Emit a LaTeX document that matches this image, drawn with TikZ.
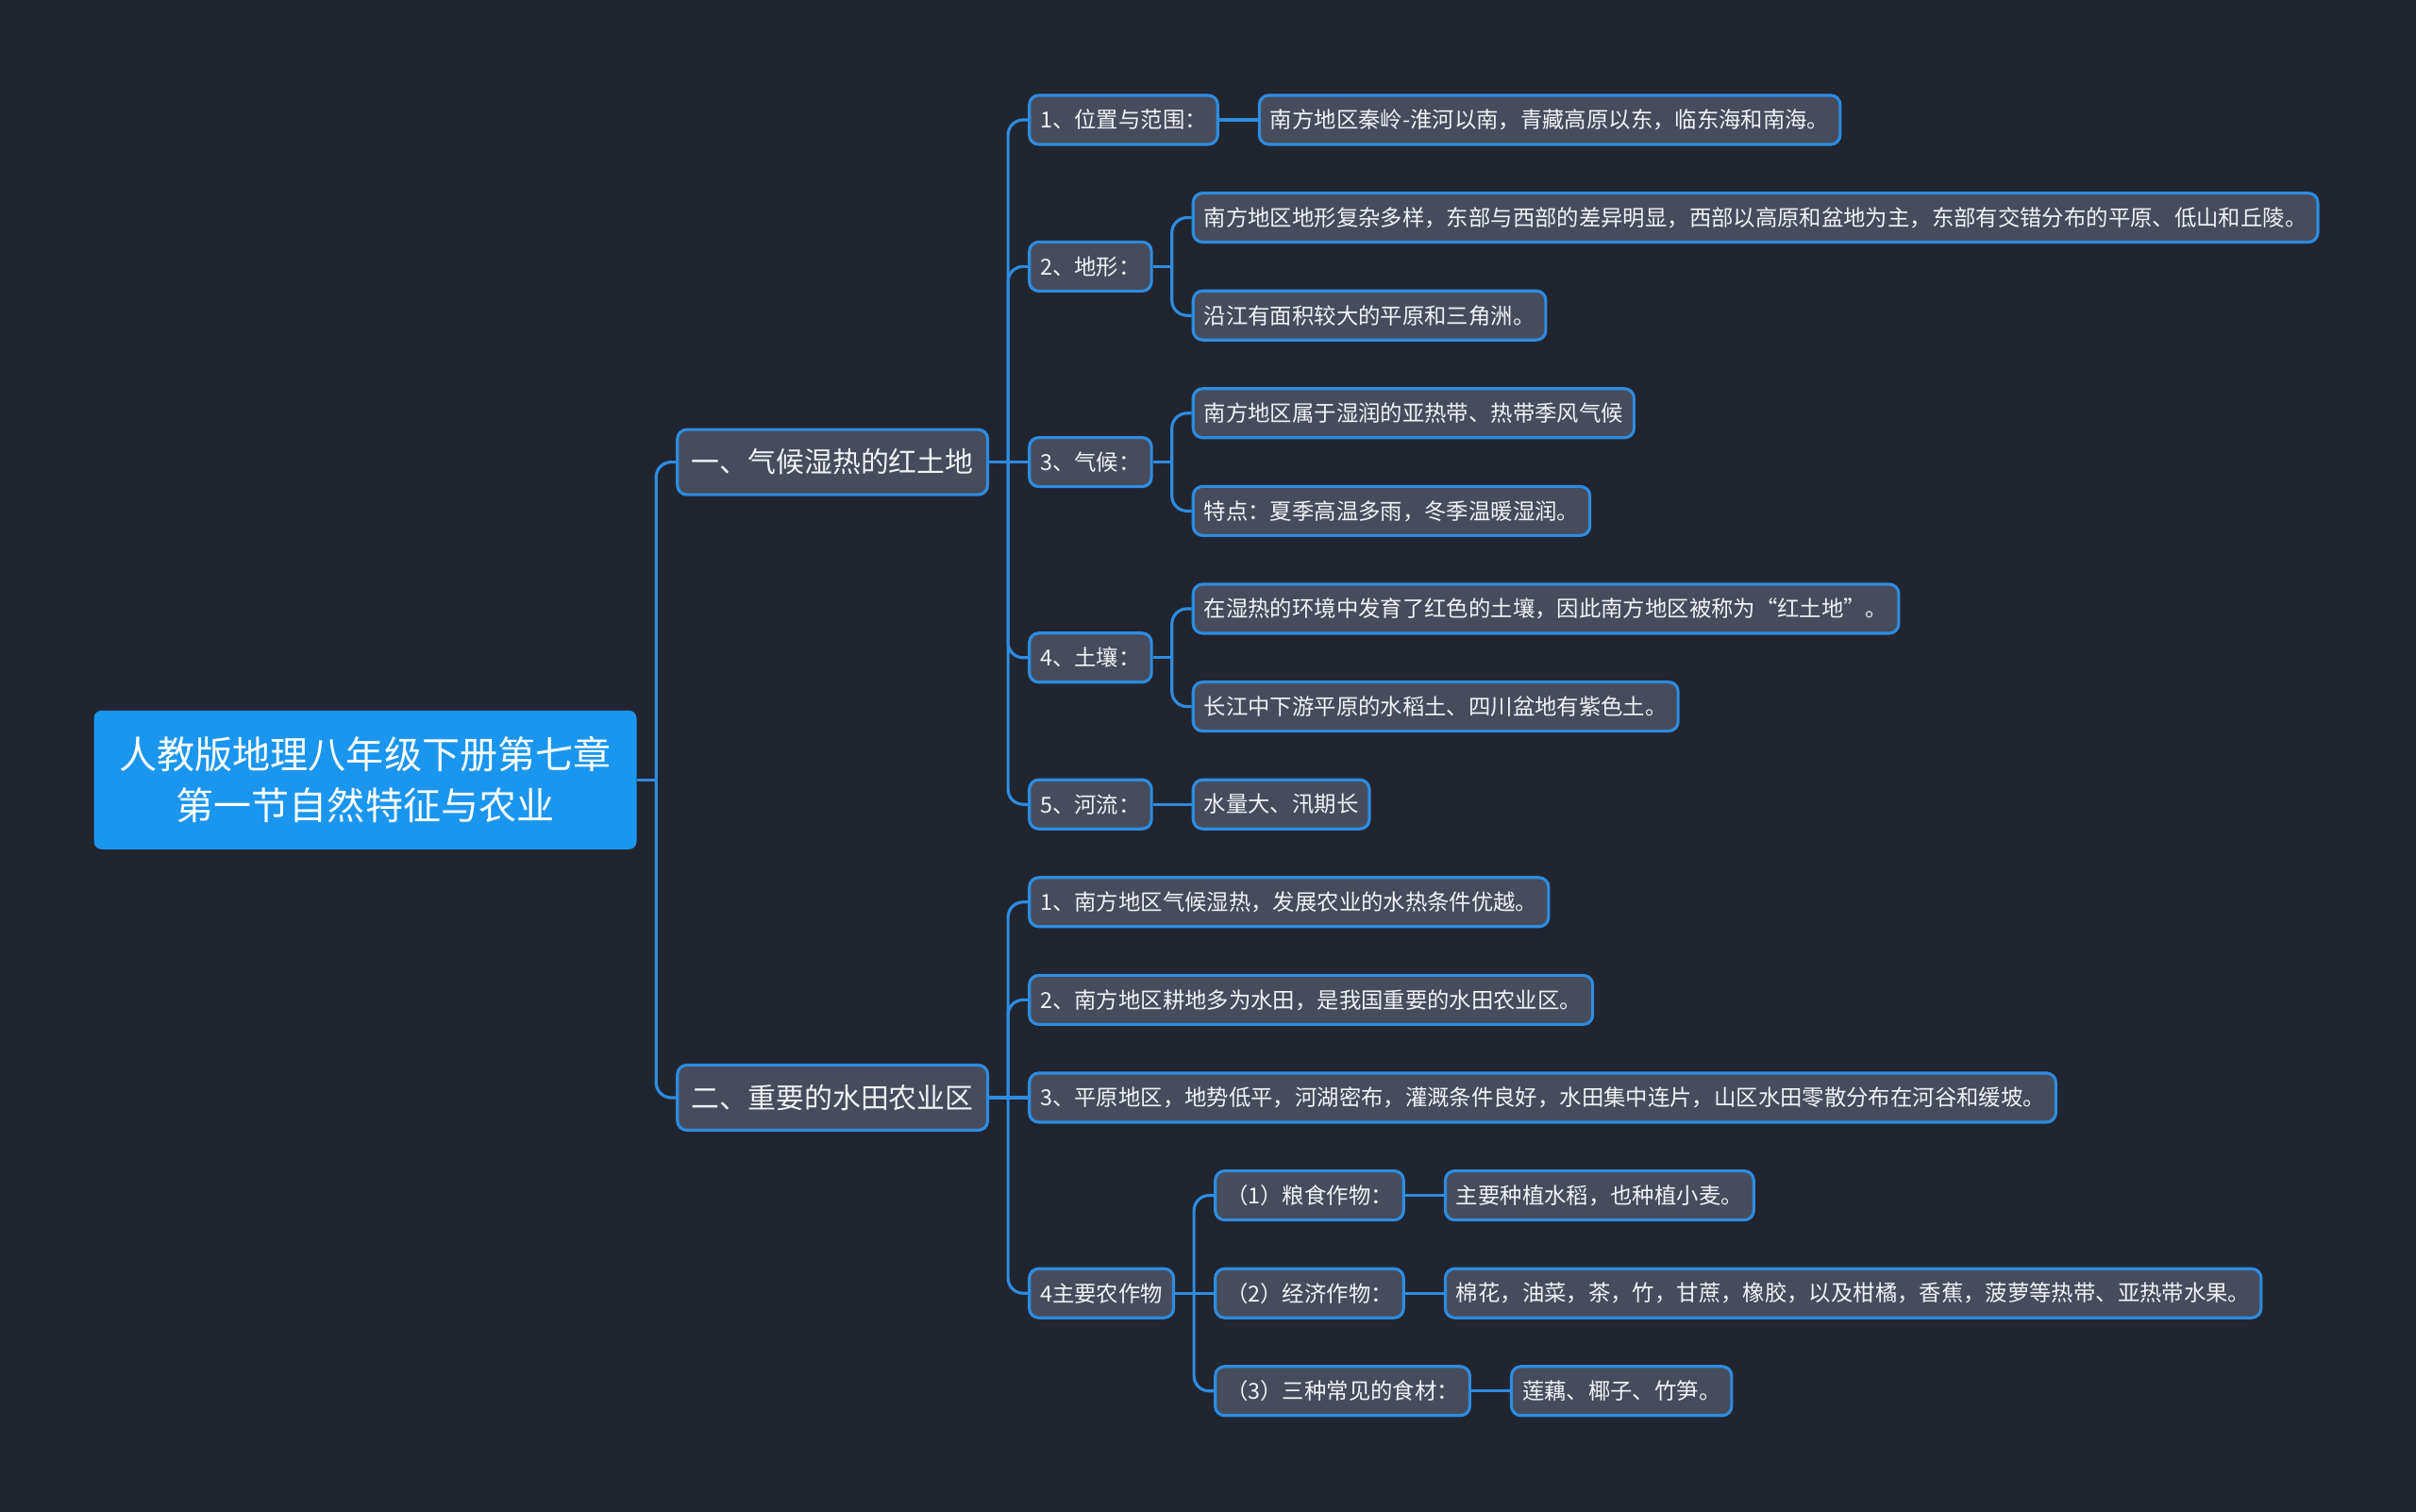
\documentclass[tikz,border=0pt]{standalone}
\usepackage{fontspec}
\setmainfont{Noto Sans CJK SC}
\usetikzlibrary{positioning}

\definecolor{bgdark}{RGB}{33,37,48}
\definecolor{rootblue}{RGB}{27,150,238}
\definecolor{linkblue}{RGB}{45,140,224}
\definecolor{boxgray}{RGB}{70,76,91}
\definecolor{txtwhite}{RGB}{240,242,245}

\tikzset{
  rootbox/.style={fill=rootblue, rounded corners=0.8mm, text=white, align=center,
    minimum width=5.75cm, minimum height=1.47cm, font=\fontsize{11.4}{15.3}\selectfont},
  topic/.style={draw=linkblue, line width=0.9pt, fill=boxgray, rounded corners=1mm,
    text=txtwhite, inner xsep=0.15cm, inner ysep=0pt, minimum height=0.69cm,
    font=\fontsize{8.5}{10}\selectfont},
  item/.style={topic, minimum height=0.52cm, inner xsep=0.115cm,
    font=\fontsize{6.65}{8}\selectfont},
  link/.style={draw=linkblue, line width=0.9pt},
  elbow/.style={link, rounded corners=1.6mm},
}

\begin{document}
\begin{tikzpicture}
\fill[bgdark] (0,0) rectangle (25.6,-16.02);

\node[rootbox] (root) at (3.87,-8.263) {人教版地理八年级下册第七章\\第一节自然特征与农业};

% first branch
\node[topic, right=0.41cm of root, yshift=3.367cm] (clim) {一、气候湿热的红土地};
\node[item, right=0.41cm of clim, yshift=3.626cm] (pos) {1、位置与范围：};
\node[item, right=0.41cm of pos] (posA) {南方地区秦岭-淮河以南，青藏高原以东，临东海和南海。};
\node[item, right=0.41cm of clim, yshift=2.072cm] (land) {2、地形：};
\node[item, right=0.41cm of land, yshift=0.518cm] (landA) {南方地区地形复杂多样，东部与西部的差异明显，西部以高原和盆地为主，东部有交错分布的平原、低山和丘陵。};
\node[item, right=0.41cm of land, yshift=-0.518cm] (landB) {沿江有面积较大的平原和三角洲。};
\node[item, right=0.41cm of clim] (wthr) {3、气候：};
\node[item, right=0.41cm of wthr, yshift=0.518cm] (wthrA) {南方地区属于湿润的亚热带、热带季风气候};
\node[item, right=0.41cm of wthr, yshift=-0.518cm] (wthrB) {特点：夏季高温多雨，冬季温暖湿润。};
\node[item, right=0.41cm of clim, yshift=-2.072cm] (soil) {4、土壤：};
\node[item, right=0.41cm of soil, yshift=0.518cm] (soilA) {在湿热的环境中发育了红色的土壤，因此南方地区被称为“红土地”。};
\node[item, right=0.41cm of soil, yshift=-0.518cm] (soilB) {长江中下游平原的水稻土、四川盆地有紫色土。};
\node[item, right=0.41cm of clim, yshift=-3.626cm] (river) {5、河流：};
\node[item, right=0.41cm of river] (riverA) {水量大、汛期长};

% second branch
\node[topic, right=0.41cm of root, yshift=-3.367cm] (farm) {二、重要的水田农业区};
\node[item, right=0.41cm of farm, yshift=2.072cm] (fa1) {1、南方地区气候湿热，发展农业的水热条件优越。};
\node[item, right=0.41cm of farm, yshift=1.036cm] (fa2) {2、南方地区耕地多为水田，是我国重要的水田农业区。};
\node[item, right=0.41cm of farm] (fa3) {3、平原地区，地势低平，河湖密布，灌溉条件良好，水田集中连片，山区水田零散分布在河谷和缓坡。};
\node[item, right=0.41cm of farm, yshift=-2.072cm] (crop) {4主要农作物};
\node[item, right=0.41cm of crop, yshift=1.036cm] (grain) {（1）粮食作物：};
\node[item, right=0.41cm of grain] (grainA) {主要种植水稻，也种植小麦。};
\node[item, right=0.41cm of crop] (cash) {（2）经济作物：};
\node[item, right=0.41cm of cash] (cashA) {棉花，油菜，茶，竹，甘蔗，橡胶，以及柑橘，香蕉，菠萝等热带、亚热带水果。};
\node[item, right=0.41cm of crop, yshift=-1.036cm] (food) {（3）三种常见的食材：};
\node[item, right=0.41cm of food] (foodA) {莲藕、椰子、竹笋。};

% connectors
\coordinate (rootj) at ([xshift=0.2cm]root.east);
\draw[link] (root.east) -- (rootj);
\draw[elbow] (rootj) |- (clim.west);
\draw[elbow] (rootj) |- (farm.west);
\foreach \p/\kids in {clim/{pos,land,soil,river}, land/{landA,landB}, wthr/{wthrA,wthrB},
    soil/{soilA,soilB}, farm/{fa1,fa2,crop}, crop/{grain,food}}{
  \coordinate (\p j) at ([xshift=0.2cm]\p.east);
  \draw[link] (\p.east) -- (\p j);
  \foreach \k in \kids {\draw[elbow] (\p j) |- (\k.west);}
}
\foreach \a/\b in {clim/wthr, farm/fa3, crop/cash, pos/posA, river/riverA,
    grain/grainA, cash/cashA, food/foodA}
  \draw[link] (\a.east) -- (\b.west);
\end{tikzpicture}
\end{document}
